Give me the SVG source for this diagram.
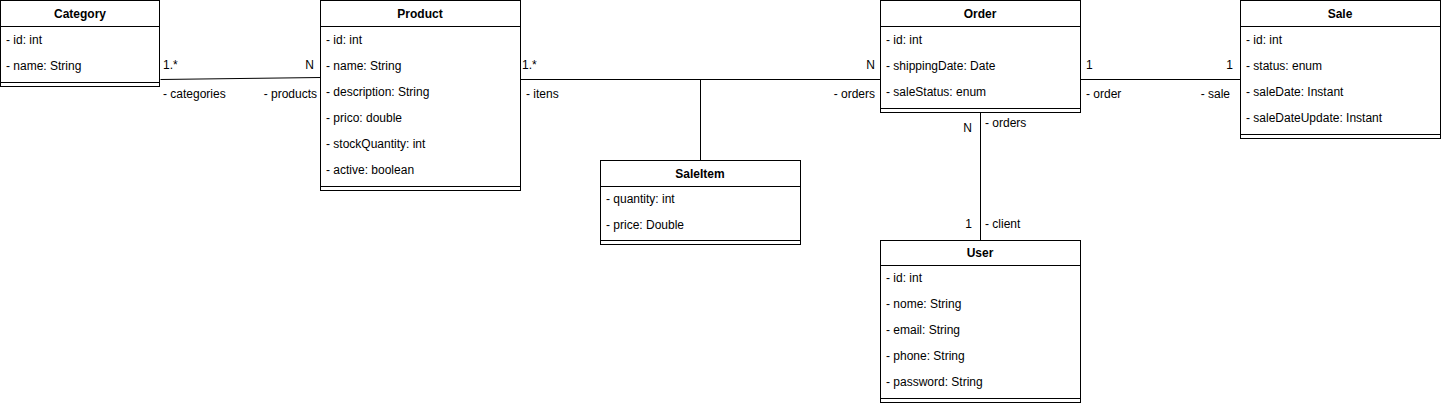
<svg xmlns="http://www.w3.org/2000/svg" width="1442" height="404" viewBox="0 0 1442 404">
<style>
text{font-family:"Liberation Sans",Arial,sans-serif;font-size:12px;fill:#000}
.h{font-weight:bold;text-anchor:middle}
.r{text-anchor:end}
.box{fill:#fff;stroke:#000;stroke-width:1}
.ln{stroke:#000;stroke-width:1;fill:none}
</style>
<rect width="1442" height="404" fill="#fff"/>
<g id="connectors">
<path class="ln" d="M160.5 79.5 L320.5 77.5"/>
<path class="ln" d="M520.5 79.5 H880.5"/>
<path class="ln" d="M700.5 79.5 V160.5"/>
<path class="ln" d="M1080.5 79.5 H1240.5"/>
<path class="ln" d="M980.5 112.5 V240.5"/>
<text x="163" y="69">1.*</text>
<text class="r" x="314" y="69">N</text>
<text x="163" y="98">- categories</text>
<text class="r" x="317" y="98">- products</text>
<text x="522" y="69">1.*</text>
<text class="r" x="875" y="69">N</text>
<text x="526" y="98">- itens</text>
<text class="r" x="875" y="98">- orders</text>
<text x="1086" y="69">1</text>
<text class="r" x="1233" y="69">1</text>
<text x="1086" y="98">- order</text>
<text class="r" x="1230" y="98">- sale</text>
<text class="r" x="972" y="132">N</text>
<text x="985" y="127">- orders</text>
<text class="r" x="972" y="228">1</text>
<text x="985" y="228">- client</text>
</g>
<g id="category">
<rect class="box" x="0.5" y="0.5" width="159" height="86"/>
<path class="ln" d="M0.5 26.5 H159.5 M0.5 82.5 H159.5"/>
<text class="h" x="80" y="18">Category</text>
<text x="6" y="44">- id: int</text>
<text x="6" y="70">- name: String</text>
</g>
<g id="product">
<rect class="box" x="320.5" y="0.5" width="200" height="190"/>
<path class="ln" d="M320.5 26.5 H520.5 M320.5 186.5 H520.5"/>
<text class="h" x="420" y="18">Product</text>
<text x="326" y="44">- id: int</text>
<text x="326" y="70">- name: String</text>
<text x="326" y="96">- description: String</text>
<text x="326" y="122">- prico: double</text>
<text x="326" y="148">- stockQuantity: int</text>
<text x="326" y="174">- active: boolean</text>
</g>
<g id="order">
<rect class="box" x="880.5" y="0.5" width="200" height="112"/>
<path class="ln" d="M880.5 26.5 H1080.5 M880.5 108.5 H1080.5"/>
<text class="h" x="980" y="18">Order</text>
<text x="886" y="44">- id: int</text>
<text x="886" y="70">- shippingDate: Date</text>
<text x="886" y="96">- saleStatus: enum</text>
</g>
<g id="sale">
<rect class="box" x="1240.5" y="0.5" width="200" height="138"/>
<path class="ln" d="M1240.5 26.5 H1440.5 M1240.5 134.5 H1440.5"/>
<text class="h" x="1340" y="18">Sale</text>
<text x="1246" y="44">- id: int</text>
<text x="1246" y="70">- status: enum</text>
<text x="1246" y="96">- saleDate: Instant</text>
<text x="1246" y="122">- saleDateUpdate: Instant</text>
</g>
<g id="saleitem">
<rect class="box" x="600.5" y="160.5" width="200" height="84"/>
<path class="ln" d="M600.5 186.5 H800.5 M600.5 240.5 H800.5"/>
<text class="h" x="700" y="178">SaleItem</text>
<text x="606" y="203">- quantity: int</text>
<text x="606" y="229">- price: Double</text>
</g>
<g id="user">
<rect class="box" x="880.5" y="240.5" width="200" height="162"/>
<path class="ln" d="M880.5 265.5 H1080.5 M880.5 398.5 H1080.5"/>
<text class="h" x="980" y="257">User</text>
<text x="886" y="282">- id: int</text>
<text x="886" y="308">- nome: String</text>
<text x="886" y="334">- email: String</text>
<text x="886" y="360">- phone: String</text>
<text x="886" y="386">- password: String</text>
</g>
</svg>
